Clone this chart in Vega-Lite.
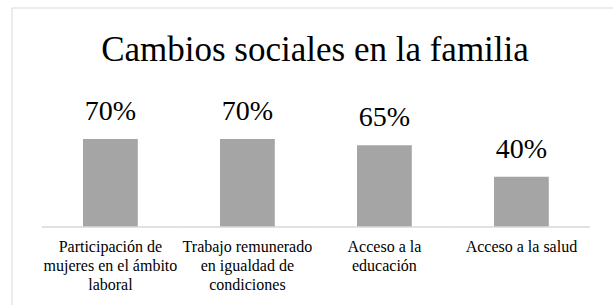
{
  "$schema": "https://vega.github.io/schema/vega-lite/v6.json",
  "width": 620,
  "height": 320,
  "autosize": {"type": "none"},
  "padding": {"left": 11.5, "top": 7.5, "right": 0, "bottom": 0},
  "background": "white",
  "view": {"stroke": "#d9d9d9", "strokeWidth": 1},
  "config": {"font": "Liberation Serif", "text": {"font": "Liberation Serif"}},
  "title": {
    "text": "Cambios sociales en la familia",
    "font": "Liberation Serif",
    "fontSize": 35,
    "fontWeight": "normal",
    "color": "#000000",
    "offset": -51.5,
    "dy": 37,
    "baseline": "alphabetic",
    "dx": -6.5
  },
  "data": {
    "values": [
      {"cat": "Participación de\nmujeres en el ámbito\nlaboral", "value": 0.70},
      {"cat": "Trabajo remunerado\nen igualdad de\ncondiciones", "value": 0.70},
      {"cat": "Acceso a la\neducación", "value": 0.65},
      {"cat": "Acceso a la salud", "value": 0.40}
    ]
  },
  "encoding": {
    "x": {
      "field": "cat",
      "type": "nominal",
      "sort": null,
      "scale": {"paddingInner": 0.6, "paddingOuter": 0.5628, "align": 0.4637},
      "axis": {
        "title": null,
        "orient": "bottom",
        "offset": -100.5,
        "domain": false,
        "ticks": false,
        "labelAngle": 0,
        "labelFont": "Liberation Serif",
        "labelFontSize": 16,
        "labelColor": "#000000",
        "labelPadding": 11,
        "labelLineHeight": 19,
        "labelBaseline": "top",
        "labelLimit": 0,
        "labelOverlap": false,
        "labelExpr": "split(datum.label, '\\n')"
      }
    }
  },
  "layer": [
    {
      "mark": {"type": "bar", "color": "#a5a5a5"},
      "encoding": {
        "y": {
          "field": "value",
          "type": "quantitative",
          "scale": {"domain": [-0.7995, 1.746], "nice": false, "zero": false},
          "axis": null
        },
        "y2": {"datum": 0}
      }
    },
    {
      "mark": {"type": "tick", "color": "#d9d9d9", "thickness": 1.5, "size": 137, "orient": "horizontal", "opacity": 1},
      "encoding": {
        "y": {"datum": 0, "type": "quantitative"}
      }
    },
    {
      "mark": {"type": "text", "font": "Liberation Serif", "fontSize": 28, "baseline": "alphabetic", "dy": -19, "color": "#000000"},
      "encoding": {
        "y": {"field": "value", "type": "quantitative"},
        "text": {"field": "value", "type": "quantitative", "format": ".0%"}
      }
    }
  ]
}
